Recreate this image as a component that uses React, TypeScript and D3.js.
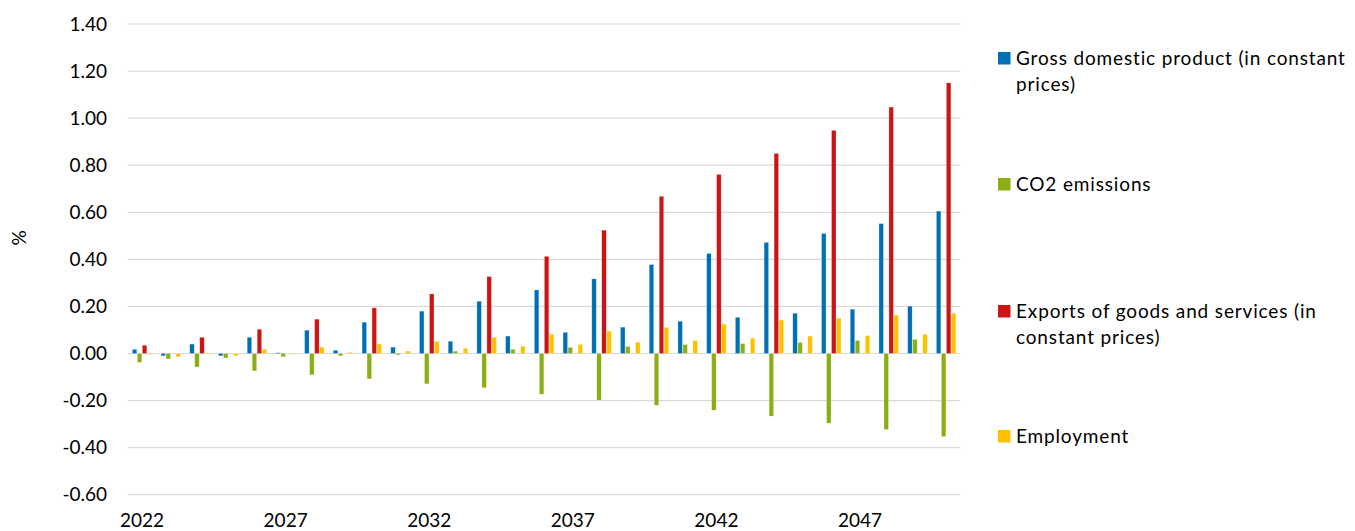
import React from "react";
import * as d3 from "d3";

const years = d3.range(2022, 2051).map(String);
const tickYears = ["2022", "2027", "2032", "2037", "2042", "2047"];
const yTicks = [-0.6, -0.4, -0.2, 0, 0.2, 0.4, 0.6, 0.8, 1.0, 1.2, 1.4];

const gdp = [0.018, -0.010, 0.040, -0.010, 0.069, 0.003, 0.099, 0.014, 0.133, 0.027, 0.180, 0.052, 0.222, 0.074, 0.270, 0.090, 0.317, 0.112, 0.378, 0.137, 0.425, 0.154, 0.472, 0.171, 0.510, 0.188, 0.552, 0.201, 0.605];
const co2 = [-0.038, -0.023, -0.057, -0.019, -0.074, -0.014, -0.091, -0.010, -0.108, -0.006, -0.129, 0.010, -0.146, 0.018, -0.173, 0.026, -0.198, 0.030, -0.220, 0.038, -0.241, 0.042, -0.266, 0.047, -0.296, 0.055, -0.323, 0.060, -0.353];
const exportsVals = [0.035, 0, 0.069, 0, 0.103, 0, 0.146, 0, 0.194, 0, 0.253, 0, 0.327, 0, 0.413, 0, 0.524, 0, 0.668, 0, 0.761, 0, 0.850, 0, 0.948, 0, 1.047, 0, 1.150];
const employment = [-0.004, -0.014, 0.003, -0.010, 0.018, -0.003, 0.027, 0.005, 0.040, 0.010, 0.052, 0.022, 0.069, 0.031, 0.082, 0.038, 0.095, 0.048, 0.111, 0.055, 0.125, 0.065, 0.142, 0.074, 0.150, 0.076, 0.163, 0.081, 0.171];

const seriesNames = ["gdp", "co2", "exports", "employment"];
const seriesValues = [gdp, co2, exportsVals, employment];
const seriesColors = ["#0070B4", "#8AAF14", "#CC1414", "#FFC000"];
const legendLines = [
  ["Gross domestic product (in constant", "prices)"],
  ["CO2 emissions"],
  ["Exports of goods and services (in", "constant prices)"],
  ["Employment"],
];
const legendY = [58, 184, 311, 436];

const FONT = "Lato, 'Open Sans', sans-serif";

export default function App() {
  const left = 127.7;
  const right = 960.5;
  const x = d3.scaleBand<string>().domain(years).range([left, right]).padding(0);
  const bw = x.bandwidth();
  const x1 = d3
    .scaleBand<string>()
    .domain(seriesNames)
    .range([bw / 2 - 10, bw / 2 + 10])
    .paddingInner(0.1)
    .paddingOuter(0.05);
  const y = d3.scaleLinear().domain([-0.6, 1.4]).range([494.7, 24]);

  return (
    <svg
      width={1355}
      height={531}
      style={{ position: "absolute", left: 0, top: 0, background: "#fff" }}
      fontFamily={FONT}
    >
      {yTicks.map((t) => (
        <g key={t}>
          <line x1={left} x2={right} y1={y(t)} y2={y(t)} stroke="#d9d9d9" strokeWidth={1.2} />
          <text x={107} y={y(t)} dy="0.35em" textAnchor="end" fontSize={19} fill="#000">
            {t.toFixed(2)}
          </text>
        </g>
      ))}
      {seriesNames.map((s, si) => (
        <g key={s} fill={seriesColors[si]}>
          {years.map((yr, i) => {
            const v = seriesValues[si][i];
            if (v === 0) return null;
            const y0 = y(Math.max(0, v));
            const h = Math.abs(y(v) - y(0));
            return (
              <rect
                key={yr}
                x={(x(yr) as number) + (x1(s) as number)}
                y={y0}
                width={x1.bandwidth()}
                height={Math.max(h, 0.8)}
                stroke="#fff"
                strokeOpacity={0.5}
                strokeWidth={0.5}
              />
            );
          })}
        </g>
      ))}
      {tickYears.map((t) => (
        <text
          key={t}
          x={(x(t) as number) + bw / 2}
          y={526.5}
          textAnchor="middle"
          fontSize={19}
          fill="#000"
        >
          {t}
        </text>
      ))}
      <text
        transform="translate(19,238) rotate(-90)"
        textAnchor="middle"
        dy="0.35em"
        fontSize={19}
        fill="#000"
      >
        %
      </text>
      {legendLines.map((lines, i) => (
        <g key={i}>
          <rect x={998} y={legendY[i] - 6} width={12.5} height={12.5} fill={seriesColors[i]} />
          {lines.map((ln, j) => (
            <text
              key={j}
              x={1016}
              y={legendY[i] + j * 26.5}
              dy="0.35em"
              fontSize={19}
              letterSpacing={0.85}
              fill="#000"
            >
              {ln}
            </text>
          ))}
        </g>
      ))}
    </svg>
  );
}
